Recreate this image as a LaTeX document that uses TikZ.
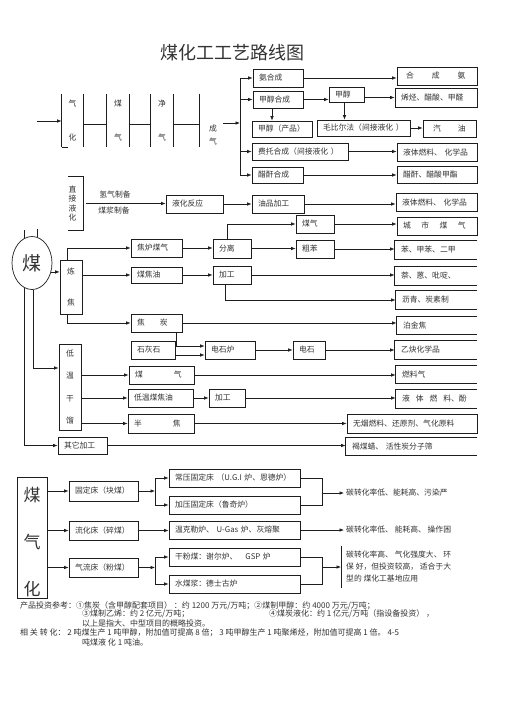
\documentclass[tikz,border=0pt]{standalone}
\usepackage{fontspec}
\setmainfont{Noto Sans CJK SC}
\usetikzlibrary{arrows.meta,shapes.geometric,calc}
\definecolor{txt}{HTML}{333333}
\definecolor{lc}{HTML}{1E1E1E}
\tikzset{
  base/.style={font=\fontsize{7.8}{9.5}\selectfont, text=txt},
  bx/.style={base, draw=lc, line width=0.7pt, inner xsep=6pt, inner ysep=0pt, align=left},
  ar/.style={draw=lc, line width=0.7pt, -{Latex[length=4.5pt,width=3.6pt]}},
  lnk/.style={draw=lc, line width=0.7pt},
  lbl/.style={base, inner sep=0pt},
}
\newcommand\bx[7][]{%
  \pgfmathsetmacro\bxw{#5-#3-12}%
  \pgfmathsetmacro\bxh{#6-#4}%
  \node[bx,text width=\bxw pt,minimum height=\bxh pt,#1] (#2) at ({(#3+#5)/2},{(#4+#6)/2}) {\mbox{#7}};}
\newcommand\obx[7][]{%
  \bx[draw=none,#1]{#2}{#3}{#4}{#5}{#6}{#7}%
  \draw[lnk] (#2.north east) -- (#2.north west) -- (#2.south west) -- (#2.south east);}
\newcommand\vbx[7][]{%
  \pgfmathsetmacro\bxw{#5-#3}%
  \pgfmathsetmacro\bxh{#6-#4}%
  \node[bx,align=center,inner sep=0pt,minimum width=\bxw pt,minimum height=\bxh pt,#1] (#2) at ({(#3+#5)/2},{(#4+#6)/2}) {#7};}
\begin{document}
\begin{tikzpicture}[x=1pt,y=-1pt]
\fill[white] (0,0) rectangle (505,715);
\useasboundingbox (0,0) rectangle (505,715);

% title
\node[text=txt,font=\fontsize{18}{18}\selectfont,inner sep=0pt] (title) at (232,53) {煤化工工艺路线图};

% ---------- gasification chain (top-left)
\vbx[draw=none]{qh}{62}{94}{83}{147}{气\\[24pt]化}
\vbx[draw=none]{mq0}{107}{94}{129}{147}{煤\\[24pt]气}
\vbx[draw=none]{jq}{151}{94}{173}{147}{净\\[24pt]气}
\vbx[draw=none]{cq}{200}{120}{226}{150}{成\\[4pt]气}
\foreach \n in {qh,mq0,jq}{
  \draw[lnk] (\n.north west) -- (\n.south west);
  \draw[lnk] (\n.north east) -- (\n.south east);
}
\draw[lnk] (cq.west |- qh.north) -- (cq.west |- qh.south);
\draw[lnk] (qh.south west) -- ++(6,0);
\draw[lnk] ([yshift=-3.5pt]qh.east) -- ([yshift=-3.5pt]qh.east -| mq0.west);
\draw[lnk] ([yshift=-3.5pt]mq0.east) -- ([yshift=-3.5pt]mq0.east -| jq.west);
\draw[lnk] ([yshift=-3.5pt]jq.east) -- ([yshift=-3.5pt]jq.east -| cq.west);
\coordinate (in0) at (37,121);
\draw[ar] (in0) -- (in0 -| qh.west);

% ---------- synthesis (top-right)
\bx{ahc}{253}{69}{303}{87}{氨合成}
\bx[align=left]{hca}{397}{67}{477}{85}{\hspace{3pt}合\hspace{18pt}成\hspace{18pt}氨}
\bx{jchc}{253}{91}{303}{108}{甲醇合成}
\bx{jc}{329}{87}{364}{102}{甲醇}
\bx{xt}{395}{88}{477}{107}{烯烃、醋酸、甲醛}
\bx{jccp}{252}{121}{312}{137}{甲醇（产品）}
\bx{mbef}{317}{120}{410}{136}{毛比尔法（间接液化 ）}
\bx{qy}{423}{120}{476}{137}{\hspace{4pt}汽\hspace{17pt}油}
\bx{ft}{252}{143}{348}{160}{费托合成（间接液化 ）}
\bx{ytrla}{397}{143}{477}{161}{液体燃料、 化学品}
\bx{ccs}{252}{167}{303}{183}{醋酐合成}
\bx{cc}{397}{166}{477}{183}{醋酐、醋酸甲酯}

\coordinate (bus) at (240,0);
\coordinate (out0) at (223,123);
\draw[ar] (out0) -- (out0 -| bus);
\draw[lnk] (bus |- ahc.west) -- (bus |- ccs.west);
\foreach \n in {ahc,jchc,ft,ccs}{\draw[ar] (bus |- \n.west) -- (\n.west);}
\draw[ar] (ahc.east) -- (ahc.east -| hca.west);
\draw[ar] (jchc.east) -- (jchc.east -| jc.west);
\draw[ar] ([yshift=-3pt]jc.east) -- ([yshift=-3pt]jc.east -| xt.west);
\draw[ar] ([xshift=-6pt]jchc.south) -- ([xshift=-6pt]jchc.south |- jccp.north);
\draw[ar] ([xshift=-2pt]jc.south) -- ([xshift=-2pt]jc.south |- mbef.north);
\draw[ar] (mbef.east) -- (mbef.east -| qy.west);
\draw[ar] (ft.east) -- (ft.east -| ytrla.west);
\draw[ar] (ccs.east) -- (ccs.east -| cc.west);

% ---------- direct liquefaction
\vbx[draw=none]{zjyh}{62}{177}{83}{230}{直\\接\\液\\化}
\draw[lnk] ([xshift=6pt]zjyh.north west) -- (zjyh.north east) -- (zjyh.south east) -- ([xshift=6pt]zjyh.south west);
\node[lbl] (qqzb) at (115,195) {氢气制备};
\node[lbl] (mjzb) at (114,211) {煤浆制备};
\bx{yhfy}{166}{195}{223}{213}{液化反应}
\bx{ypjg}{252}{195}{304}{213}{油品加工}
\bx{ytrlb}{396}{193}{477}{211}{液体燃料、 化学品}
\draw[ar] ([xshift=3pt]zjyh.east) -- (zjyh.east -| yhfy.west);
\draw[ar] (yhfy.east) -- (yhfy.east -| ypjg.west);
\draw[ar] (ypjg.east) -- (ypjg.east -| ytrlb.west);

% ---------- coal
\node[ellipse,draw=lc,line width=0.7pt,minimum width=40pt,minimum height=53pt,inner sep=0pt,
      text=txt,font=\fontsize{19}{19}\selectfont] (coal) at (32,263) {煤};
\draw[lnk] (coal.106) -- ++(0,-8);
\draw[lnk] (coal.79) -- ++(0,-8);

% coking
\vbx{lj}{60}{260}{82}{314}{炼\\[21pt]焦}
\bx{jlmq}{131}{239}{182}{257}{焦炉煤气}
\bx{mjy}{131}{267}{182}{283}{煤焦油}
\bx{jt}{131}{314}{182}{332}{焦\hspace{15pt}炭}
\bx{fl}{213}{239}{251}{258}{分离}
\bx{jga}{213}{266}{251}{284}{加工}
\bx{mqa}{296}{215}{334}{233}{煤气}
\bx{cb}{296}{240}{334}{258}{粗苯}
\bx{csmq}{397}{217}{477}{235}{城\hspace{10.5pt}市\hspace{10.5pt}煤\hspace{10.5pt}气}
\obx{ben}{395}{241}{477}{259}{苯、甲苯、二甲}
\obx{nai}{395}{267}{477}{285}{萘、蒽、吡啶、}
\obx{lq}{396}{291}{477}{309}{沥青、炭素制}
\obx{bjj}{397}{317}{477}{334}{泊金焦}
\bx{shs}{131}{341}{175}{359}{石灰石}
\bx{dsl}{205}{341}{255}{359}{电石炉}
\bx{ds}{293}{341}{325}{359}{电石}
\obx{yq}{395}{341}{477}{359}{乙炔化学品}

\draw[ar] (coal.-25) -- (coal.-25 -| lj.west);
\draw[ar] ([xshift=8pt]lj.north west) |- (jlmq.west);
\draw[ar] (lj.east |- mjy.west) -- (mjy.west);
\draw[ar] ([xshift=8pt]lj.south west) |- (jt.west);
\draw[ar] (jlmq.east) -- (jlmq.east -| fl.west);
\draw[ar] ([xshift=-5pt]fl.north) |- (mqa.west);
\draw[ar] (mqa.east) -- (mqa.east -| csmq.west);
\draw[ar] (fl.east) -- (fl.east -| cb.west);
\draw[ar] (cb.east) -- (cb.east -| ben.west);
\draw[ar] (mjy.east) -- (mjy.east -| jga.west);
\draw[ar] (jga.east) -- (jga.east -| nai.west);
\draw[ar] ([xshift=-7pt]jga.south) |- (lq.west);
\draw[ar] (jt.east) -- (jt.east -| bjj.west);
\draw[ar] ([xshift=20pt]jt.south) |- ([yshift=4pt]dsl.west);
\draw[ar] ([yshift=-5pt]shs.east) -- ([yshift=-5pt]shs.east -| dsl.west);
\draw[ar] (dsl.east) -- (dsl.east -| ds.west);
\draw[ar] (ds.east) -- (ds.east -| yq.west);

% low temperature carbonisation
\vbx{dwgl}{59}{344}{81}{430}{低\\[13pt]温\\[13pt]干\\[13pt]馏}
\bx{mqb}{129}{366}{194}{384}{煤\hspace{31pt}气}
\obx{rlq}{396}{366}{477}{383}{燃料气}
\bx{dwmjy}{128}{389}{193}{407}{低温煤焦油}
\bx{jgb}{209}{389}{245}{407}{加工}
\obx{ytrlc}{396}{390}{477}{408}{液\hspace{6pt}体\hspace{6pt}燃\hspace{6pt}料、酚}
\bx{bj}{128}{414}{194}{433}{半\hspace{31pt}焦}
\bx{wy}{347}{414}{477}{433}{无烟燃料、还原剂、气化原料}
\bx{qtjg}{58}{437}{107}{454}{其它加工}
\obx{hmz}{346}{438}{477}{455}{褐煤蜡、 活性炭分子筛}

\draw[ar] (coal.-88) |- ([yshift=19pt]dwgl.west);
\draw[ar] (coal.-106) |- (qtjg.west);
\draw[ar] (dwgl.east |- mqb.west) -- (mqb.west);
\draw[ar] (dwgl.east |- dwmjy.west) -- (dwmjy.west);
\draw[ar] (dwgl.east |- bj.west) -- (bj.west);
\draw[ar] (mqb.east) -- (mqb.east -| rlq.west);
\draw[ar] (dwmjy.east) -- (dwmjy.east -| jgb.west);
\draw[ar] (jgb.east) -- (jgb.east -| ytrlc.west);
\draw[ar] (bj.east) -- (bj.east -| wy.west);
\draw[ar] (qtjg.east) -- (qtjg.east -| hmz.west);

% ---------- coal gasification
\vbx[font=\fontsize{17}{20}\selectfont]{mqh}{17}{477}{47}{598}{\rule{0pt}{24pt}煤\\[27pt]气\\[27pt]化}
\bx{gdc}{69}{481}{138}{501}{固定床（块煤）}
\bx{lhc}{69}{521}{138}{540}{流化床（碎煤）}
\bx{qlc}{69}{558}{138}{577}{气流床（粉煤）}
\bx{cygd}{169}{469}{300}{487}{常压固定床 （U.G.I 炉、恩德炉）}
\bx{jygd}{169}{496}{300}{514}{加压固定床（鲁奇炉）}
\bx{wkl}{169}{521}{300}{539}{温克勒炉、 U-Gas 炉、灰熔聚}
\bx{gfm}{169}{548}{300}{566}{干粉煤：谢尔炉、\hspace{8pt}GSP 炉}
\bx{smj}{169}{575}{300}{593}{水煤浆：德士古炉}
\node[lbl,anchor=west] (ta) at (346,493) {碳转化率低、能耗高、污染严};
\node[lbl,anchor=west] (tb) at (346,530) {碳转化率低、 能耗高、 操作困};
\node[lbl,anchor=west,align=left,font=\fontsize{7.8}{12}\selectfont,inner xsep=5pt,minimum height=42pt] (tc) at (341,567)
  {碳转化率高、 气化强度大、 环\\保 好，但投资较高， 适合于大\\型的 煤化工基地应用};
\draw[lnk] (tc.north west) -- (tc.south west);

\draw[ar] (mqh.east |- gdc.west) -- (gdc.west);
\draw[ar] (mqh.east |- lhc.west) -- (lhc.west);
\draw[ar] (mqh.east |- qlc.west) -- (qlc.west);
\coordinate (fka) at (155,491);
\coordinate (fkb) at (155,568);
\draw[ar] (gdc.east) -- (gdc.east -| fka);
\draw[ar] (fka |- gdc.east) |- (cygd.west);
\draw[ar] (fka |- gdc.east) |- (jygd.west);
\draw[ar] (lhc.east) -- (lhc.east -| wkl.west);
\draw[ar] (qlc.east) -- (qlc.east -| fkb);
\draw[ar] (fkb |- qlc.east) |- (gfm.west);
\draw[ar] (fkb |- qlc.east) |- (smj.west);
\coordinate (mg) at (322,0);
\draw[lnk] (cygd.east) -| (mg |- jygd.east) -- (jygd.east);
\draw[ar] (mg |- ta.west) -- ([xshift=-2pt]ta.west);
\draw[ar] (wkl.east) -- ([xshift=-2pt]wkl.east -| ta.west);
\draw[lnk] (gfm.east) -| (mg |- smj.east) -- (smj.east);
\draw[ar] (mg |- tc.west) -- (tc.west);

% ---------- notes
\begin{scope}[every node/.style={lbl,anchor=west,font=\fontsize{8}{9}\selectfont}]
\node (na) at (20,606) {产品投资参考：①焦炭（含甲醇配套项目） ：约 1200 万元/万吨；②煤制甲醇：约 4000 万元/万吨；};
\node (nb) at (82,614) {③煤制乙烯：约 2 亿元/万吨；};
\node (nc) at (269,614) {④煤炭液化：约 1 亿元/万吨（指设备投资） ，};
\node (nd) at (82,623) {以上是指大、中型项目的概略投资。};
\node (ne) at (20,633) {相 关 转 化： 2 吨煤生产 1 吨甲醇，附加值可提高 8 倍； 3 吨甲醇生产 1 吨聚烯烃，附加值可提高 1 倍。 4-5};
\node (nf) at (82,642) {吨煤液 化 1 吨油。};
\end{scope}
\end{tikzpicture}
\end{document}
